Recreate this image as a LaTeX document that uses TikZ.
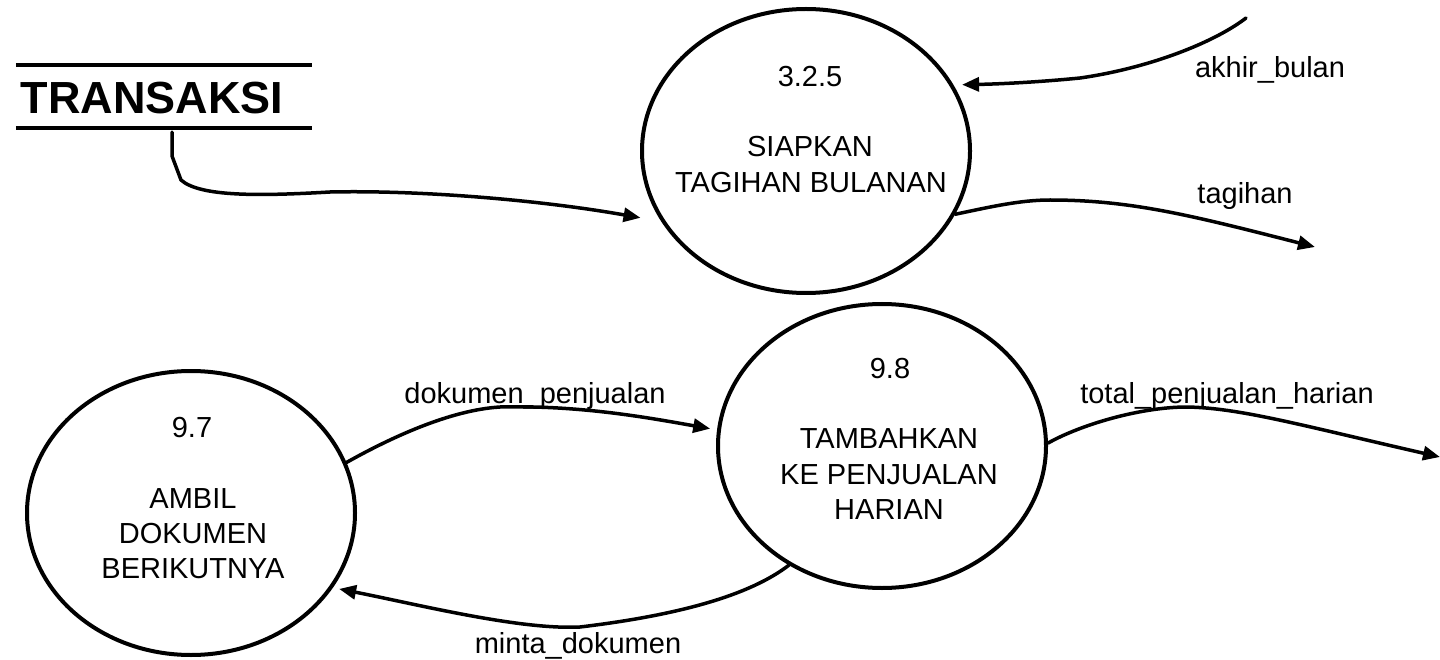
\documentclass[tikz,border=0pt]{standalone}
\usepackage{fontspec}
\setmainfont{Liberation Sans}
\usetikzlibrary{arrows.meta,calc,shapes.geometric}
\begin{document}
\begin{tikzpicture}[x=1pt,y=-1pt,
  proc/.style={draw,ellipse,line width=4pt,minimum width=328pt,minimum height=284pt,inner sep=0pt},
  txt/.style={anchor=base,inner sep=0pt,font=\fontsize{29}{29}\selectfont},
  flow/.style={line width=3.5pt,line cap=round,-{Triangle[length=17pt,width=14pt]}},
  storeline/.style={line width=4pt}]
\useasboundingbox (0,0) rectangle (1440,660);

% processes
\node[proc] (p325) at (806,151) {};
\node[proc] (p98)  at (882,446) {};
\node[proc] (p97)  at (191,513) {};

\node[txt] (p325n) at (810,87)  {3.2.5};
\node[txt] (p325a) at (810,157) {SIAPKAN};
\node[txt] (p325b) at (811,193) {TAGIHAN BULANAN};

\node[txt] (p98n) at (890,378) {9.8};
\node[txt] (p98a) at (889,448) {TAMBAHKAN};
\node[txt] (p98b) at (889,484) {KE PENJUALAN};
\node[txt] (p98c) at (889,519) {HARIAN};

\node[txt] (p97n) at (192,437) {9.7};
\node[txt] (p97a) at (193,508) {AMBIL};
\node[txt] (p97b) at (193,543) {DOKUMEN};
\node[txt] (p97c) at (193,578) {BERIKUTNYA};

% data store
\node[minimum width=296pt,minimum height=63pt,inner sep=0pt] (store) at (164,96.5) {};
\draw[storeline] (store.north west) -- (store.north east);
\draw[storeline] (store.south west) -- (store.south east);
\node[anchor=base,inner sep=0pt,font=\bfseries\fontsize{45}{45}\selectfont] (storelbl) at (152,114) {TRANSAKSI};

% free ends
\coordinate (akhirsrc) at (1246,18);
\coordinate (tagihandst) at (1315,247);
\coordinate (totaldst) at (1440,457);

% flows
\draw[flow] ($(store.south)+(8,4)$) -- (172,156) -- (181,180)
  .. controls (200,197) and (260,196) .. (330,192)
  .. controls (420,190) and (540,200) .. ($(p325.202)+(-15,6)$);

\draw[flow] (akhirsrc) .. controls (1215,42) and (1150,68) .. (1080,78)
  .. controls (1040,82) and (1000,84) .. ($(p325.23)+(7,-3)$);

\draw[flow] (p325.337) .. controls (990,207) and (1020,200) .. (1050,200)
  .. controls (1130,200) and (1190,215) .. (tagihandst);

\draw[flow] (p98.1) .. controls (1080,425) and (1140,407) .. (1187,407)
  .. controls (1240,408) and (1300,425) .. (totaldst);

\draw[flow] (p97.18) .. controls (390,438) and (450,410) .. (500,407)
  .. controls (580,405) and (650,418) .. ($(p98.174)+(-7,0)$);

\draw[flow] (p98.232) .. controls (750,595) and (680,615) .. (580,627)
  .. controls (520,630) and (420,605) .. ($(p97.333)+(5,3)$);

% flow labels
\node[txt] (lakhir) at (1270,78) {akhir\_bulan};
\node[txt] (ltagihan) at (1245,204) {tagihan};
\node[txt] (ltotal) at (1227,403) {total\_penjualan\_harian};
\node[txt] (ldokumen) at (535,403) {dokumen\_penjualan};
\node[txt] (lminta) at (578,653) {minta\_dokumen};
\end{tikzpicture}
\end{document}
